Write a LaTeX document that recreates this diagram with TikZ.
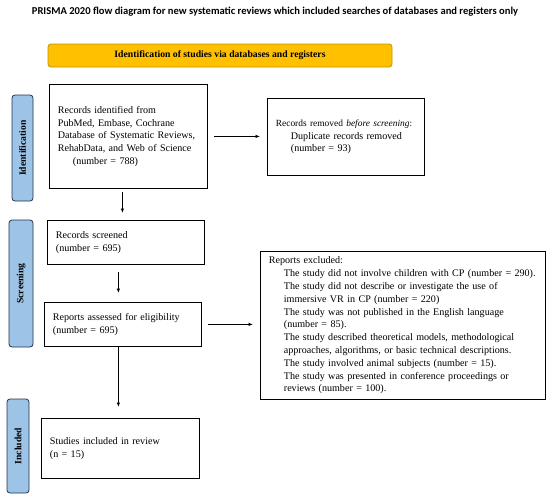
\documentclass[tikz,border=0pt]{standalone}
\usepackage{fontspec}
\setmainfont{Liberation Serif}
\newfontfamily\titlefont{Carlito}
\usetikzlibrary{arrows.meta}

\definecolor{barfill}{HTML}{FFC000}
\definecolor{barline}{HTML}{C29200}
\definecolor{stagefill}{HTML}{9DC3E6}
\definecolor{stageline}{HTML}{1F3350}

\begin{document}
\begin{tikzpicture}[
    x=1pt, y=-1pt,
    every node/.style={font=\fontsize{10.1}{12.8}\selectfont},
    box/.style={draw, thick, rectangle, anchor=north west, align=left,
                inner xsep=8.5pt, inner ysep=0pt},
    stage/.style={draw=stageline, fill=stagefill, thick, rounded corners=3pt,
                  rotate=90, font=\fontsize{9.6}{11}\selectfont\bfseries},
    arr/.style={-{Latex[length=4.5pt,width=3.5pt]}, thick}]

\useasboundingbox (0,0) rectangle (550,498);

\node[font=\titlefont\fontsize{10.55}{12}\selectfont\bfseries] (title) at (275,12)
    {PRISMA 2020 flow diagram for new systematic reviews which included searches of databases and registers only};

\node[draw=barline, fill=barfill, thick, rounded corners=3pt,
      minimum width=344pt, minimum height=23pt,
      font=\fontsize{9.7}{11}\selectfont\bfseries] (head) at (220,55.5)
    {Identification of studies via databases and registers};

% stage labels
\node[stage, minimum width=106pt, minimum height=21pt] (idstage) at (22.5,148) {Identification};
\node[stage, minimum width=127pt, minimum height=24pt] (scrstage) at (21,283.5) {Screening};
\node[stage, minimum width=94pt, minimum height=22pt] (incstage) at (18,446) {Included};

% boxes
\node[box, minimum width=158pt, minimum height=104pt, text width=141pt] (ident) at (49,84)
    {Records identified from\\
     PubMed, Embase, Cochrane\\
     Database of Systematic Reviews,\\
     RehabData, and Web of Science\\
     \hspace*{15pt}(number = 788)};
\node[box, minimum width=157pt, minimum height=77pt, text width=140pt] (removed) at (267,98)
    {\mbox{\fontsize{9.4}{12.8}\selectfont Records removed \textit{before screening}:}\\
     \hspace*{15pt}Duplicate records removed\\
     \hspace*{15pt}(number = 93)\\[10pt]};
\node[box, minimum width=157pt, minimum height=44pt, text width=140pt] (screened) at (47,220)
    {Records screened\\
     (number = 695)};
\node[box, minimum width=157pt, minimum height=44pt, text width=140pt] (assessed) at (44,302)
    {Reports assessed for eligibility\\
     (number = 695)};
\node[box, minimum width=285pt, minimum height=148pt, text width=268pt] (excluded) at (260,251)
    {Reports excluded:\\
     \hspace*{15pt}The study did not involve children with CP (number = 290).\\
     \hspace*{15pt}The study did not describe or investigate the use of\\
     \hspace*{15pt}immersive VR in CP (number = 220)\\
     \hspace*{15pt}The study was not published in the English language\\
     \hspace*{15pt}(number = 85).\\
     \hspace*{15pt}The study described theoretical models, methodological\\
     \hspace*{15pt}approaches, algorithms, or basic technical descriptions.\\
     \hspace*{15pt}The study involved animal subjects (number = 15).\\
     \hspace*{15pt}The study was presented in conference proceedings or\\
     \hspace*{15pt}reviews (number = 100).};
\node[box, minimum width=158pt, minimum height=60pt, text width=141pt] (studies) at (41,418)
    {Studies included in review\\
     (n = 15)\\[9pt]};

% arrows
\draw[arr, shorten <=6pt, shorten >=7pt] (ident.east) -- (ident.east -| removed.west);
\draw[arr, shorten <=3pt, shorten >=7pt] ([xshift=-6pt]ident.south) -- ([xshift=-6pt]ident.south |- screened.north);
\draw[arr, shorten <=7pt, shorten >=9pt] ([xshift=-7.5pt]screened.south) -- ([xshift=-7.5pt]screened.south |- assessed.north);
\draw[arr, shorten <=6pt, shorten >=7pt] (assessed.east) -- (assessed.east -| excluded.west);
\draw[arr, shorten >=11pt] ([xshift=-4.5pt]assessed.south) -- ([xshift=-4.5pt]assessed.south |- studies.north);

\end{tikzpicture}
\end{document}
